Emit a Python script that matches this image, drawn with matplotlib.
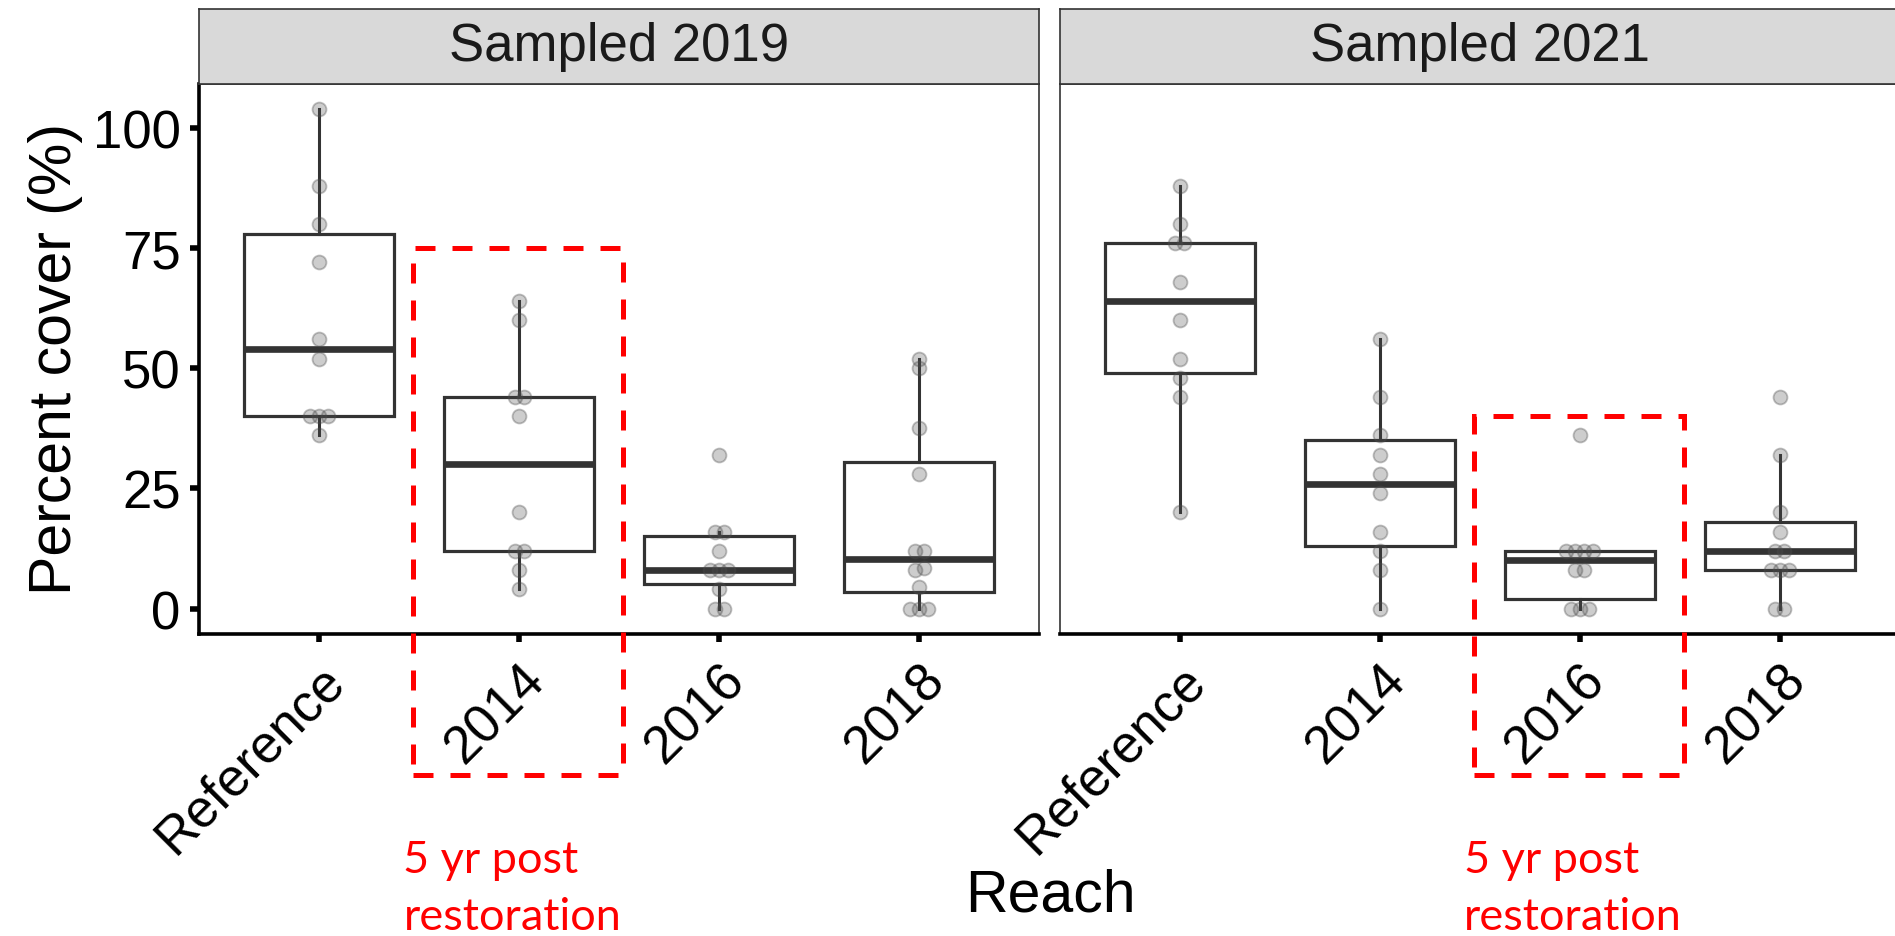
import numpy as np
import matplotlib
matplotlib.use("Agg")
import matplotlib.pyplot as plt
from matplotlib.patches import Rectangle

plt.rcParams['font.family'] = ['Liberation Sans', 'DejaVu Sans']

# --- data (percent cover per reach) ---
reaches = ["Reference", "2014", "2016", "2018"]
panels = ["Sampled 2019", "Sampled 2021"]

cover_2019_reference = [36, 40, 40, 40, 52, 56, 72, 80, 88, 104]
cover_2019_2014 = [4, 8, 12, 12, 20, 40, 44, 44, 60, 64]
cover_2019_2016 = [0, 0, 4, 8, 8, 8, 12, 16, 16, 32]
cover_2019_2018 = [0, 0, 0, 4.5, 8, 8.5, 12, 12, 28, 37.5, 50, 52]

cover_2021_reference = [20, 44, 48, 52, 60, 68, 76, 76, 80, 88]
cover_2021_2014 = [0, 8, 12, 16, 24, 28, 32, 36, 44, 56]
cover_2021_2016 = [0, 0, 0, 8, 8, 12, 12, 12, 12, 36]
cover_2021_2018 = [0, 0, 8, 8, 8, 12, 12, 16, 20, 32, 44]

y_ticks = [0, 25, 50, 75, 100]

# highlighted reach (5 yr post restoration) and top of the dashed box
highlight_2019 = ("2014", 75)
highlight_2021 = ("2016", 40)
note_text = ["5 yr post", "restoration"]

panel_data = [
    [cover_2019_reference, cover_2019_2014, cover_2019_2016, cover_2019_2018],
    [cover_2021_reference, cover_2021_2014, cover_2021_2016, cover_2021_2018],
]
highlights = [highlight_2019, highlight_2021]

W, H = 1895, 937
fig = plt.figure(figsize=(W / 100, H / 100), dpi=100)


def px_box(x0, y0, x1, y1):
    return [x0 / W, 1 - y1 / H, (x1 - x0) / W, (y1 - y0) / H]


def spread(vals, step=0.045):
    # small side-by-side offsets for repeated values
    vals = np.asarray(vals, float)
    keys = np.round(vals / 2)
    offs = np.zeros(len(vals))
    for k in np.unique(keys):
        idx = np.where(keys == k)[0]
        offs[idx] = (np.arange(len(idx)) - (len(idx) - 1) / 2) * step
    return offs


panel_x = [(199.4, 1039.3), (1059.9, 1899.8)]
dark = '#333333'
pos = np.arange(1, len(reaches) + 1)

for i, (x0, x1) in enumerate(panel_x):
    ax = fig.add_axes(px_box(x0, 84.6, x1, 634.5))
    groups = panel_data[i]

    ax.boxplot(groups, positions=pos, widths=0.75, whis=1.5,
               showfliers=False, showcaps=False, patch_artist=True,
               boxprops=dict(facecolor='white', edgecolor=dark, linewidth=2.3),
               medianprops=dict(color=dark, linewidth=4.8),
               whiskerprops=dict(color=dark, linewidth=2.2))

    for p, vals in zip(pos, groups):
        ax.plot(p + spread(vals), vals, 'o', ls='none', ms=10,
                mfc=(0.3, 0.3, 0.3, 0.28), mec=(0.3, 0.3, 0.3, 0.36),
                mew=1.3, zorder=4)

    ax.set_xlim(0.4, 4.6)
    ax.set_ylim(-5.2, 109.2)
    ax.set_xticks(pos)
    ax.set_xticklabels(reaches, fontsize=38, rotation=45, ha='right',
                       va='top', rotation_mode='anchor')
    ax.tick_params(axis='x', length=6, width=4, pad=9, color='black')

    for s in ['top', 'right', 'left']:
        ax.spines[s].set_color(dark)
        ax.spines[s].set_linewidth(1.2)
    ax.spines['bottom'].set_color('black')
    ax.spines['bottom'].set_linewidth(2.6)

    if i == 0:
        ax.set_yticks(y_ticks)
        ax.set_yticklabels([str(v) for v in y_ticks], fontsize=38)
        ax.tick_params(axis='y', length=6.5, width=4, pad=7, color='black')
        ax.spines['left'].set_color('black')
        ax.spines['left'].set_linewidth(2.6)
    else:
        ax.set_yticks([])

    # dashed highlight box around the 5 yr post restoration reach
    name, top = highlights[i]
    cx = pos[reaches.index(name)]
    ax.add_patch(Rectangle((cx - 0.53, -34.6), 1.05, top + 34.6, fill=False,
                           edgecolor='#FF0000', linewidth=3.6,
                           linestyle=(0, (4, 3.4)), clip_on=False, zorder=6))

    # red note below the box
    note_x = ax.transData.transform((cx - 0.58, 0))[0] / W
    for j, line in enumerate(note_text):
        fig.text(note_x, 1 - (873 + 57 * j) / H, line, color='#FF0000',
                 fontsize=32.5, family=['Lato', 'DejaVu Sans'],
                 ha='left', va='baseline')

    # facet strip
    sx = fig.add_axes(px_box(x0, 10, x1, 84.6))
    sx.set_facecolor('#D9D9D9')
    sx.set_xticks([])
    sx.set_yticks([])
    for s in sx.spines.values():
        s.set_color(dark)
        s.set_linewidth(1.2)
    sx.text(0.5, 0.5, panels[i], transform=sx.transAxes, ha='center',
            va='center', fontsize=38, color='#1A1A1A')

fig.text(1050 / W, 1 - 912 / H, 'Reach', ha='center', va='baseline',
         fontsize=42.5)
fig.text(56 / W, 1 - 359.5 / H, 'Percent cover (%)', rotation=90,
         ha='center', va='center', fontsize=42.5)

fig.savefig('out.png', dpi=100)
